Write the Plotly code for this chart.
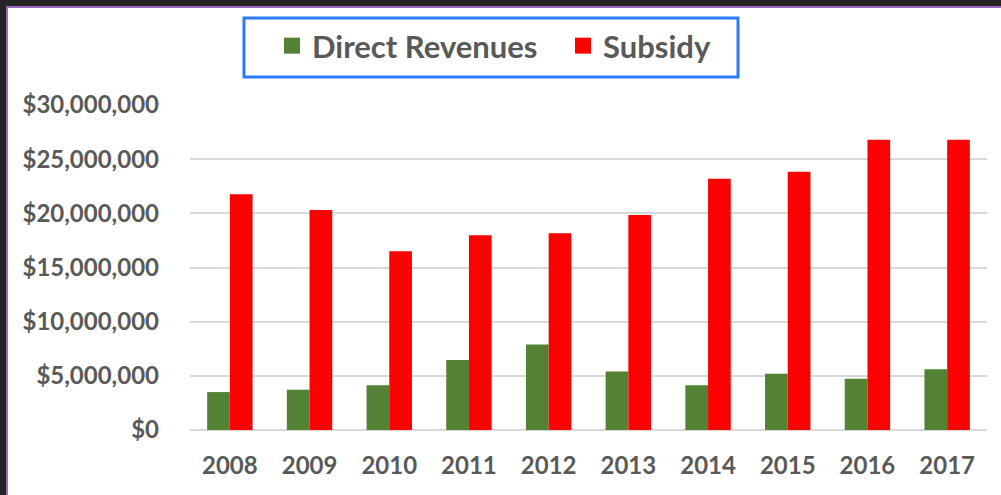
import plotly.graph_objects as go

years = ["2008", "2009", "2010", "2011", "2012", "2013", "2014", "2015", "2016", "2017"]
direct_revenues = [3500000, 3720000, 4120000, 6460000, 7900000, 5390000, 4120000, 5200000, 4740000, 5600000]
subsidy = [21760000, 20300000, 16500000, 17980000, 18160000, 19850000, 23200000, 23850000, 26800000, 26800000]
y_ticks = [0, 5000000, 10000000, 15000000, 20000000, 25000000, 30000000]

GREEN = "#548235"
RED = "#FF0000"
TXT = "#595959"
FONT = "Lato"

W, H = 1001, 495
L, R, T, B = 190, 14, 105, 65
PW, PH = W - L - R, H - T - B


def px2x(px):
    return (px - L) / PW


def px2y(py):
    return (H - B - py) / PH


fig = go.Figure()
fig.add_trace(go.Bar(x=years, y=direct_revenues, name="Direct Revenues",
                     marker=dict(color=GREEN, line=dict(width=0)), showlegend=False,
                     legendgroup="dr"))
fig.add_trace(go.Bar(x=years, y=subsidy, name="Subsidy",
                     marker=dict(color=RED, line=dict(width=0)), showlegend=False,
                     legendgroup="sub"))
# legend entries with larger square swatches
fig.add_trace(go.Scatter(x=[None], y=[None], mode="markers", name="Direct Revenues",
                         marker=dict(symbol="square", size=19, color=GREEN), legendgroup="dr"))
fig.add_trace(go.Scatter(x=[None], y=[None], mode="markers", name="Subsidy",
                         marker=dict(symbol="square", size=19, color=RED), legendgroup="sub"))

fig.update_layout(
    width=W, height=H,
    margin=dict(l=L, r=R, t=T, b=B),
    paper_bgcolor="#242424",
    plot_bgcolor="white",
    barmode="group",
    bargap=0.43,
    bargroupgap=0,
    font=dict(family=FONT, color=TXT),
    legend=dict(
        orientation="h",
        x=px2x(272), y=px2y(19), xanchor="left", yanchor="top",
        bgcolor="rgba(0,0,0,0)", borderwidth=0,
        font=dict(family=FONT, size=31, color=TXT, weight="bold"),
        itemsizing="trace",
        entrywidth=246,
    ),
    xaxis=dict(
        type="category",
        tickfont=dict(family=FONT, size=24, color=TXT, weight="bold"),
        showgrid=False, showline=False, ticks="",
        ticklabelstandoff=19,
    ),
    yaxis=dict(
        range=[0, 30000000],
        tickvals=y_ticks,
        tickformat="$,.0f",
        tickfont=dict(family=FONT, size=24, color=TXT, weight="bold"),
        showgrid=True, gridcolor="#d9d9d9", gridwidth=2,
        zeroline=True, zerolinecolor="#d9d9d9", zerolinewidth=2,
        showline=False, ticks="",
        ticklabelstandoff=30,
    ),
    shapes=[
        dict(type="rect", xref="paper", yref="paper",
             x0=px2x(7), x1=px2x(1010), y0=px2y(505), y1=px2y(7),
             fillcolor="white", line=dict(color="#9b6cc4", width=2), layer="below"),
        dict(type="rect", xref="paper", yref="paper",
             x0=px2x(244), x1=px2x(738), y0=px2y(77), y1=px2y(18),
             fillcolor="rgba(0,0,0,0)", line=dict(color="#2b7bf8", width=3), layer="above"),
    ],
)

fig.write_html(
    "out.html",
    config={"displayModeBar": False},
    post_script="document.body.style.margin='0';document.body.style.background='#242424';",
)
